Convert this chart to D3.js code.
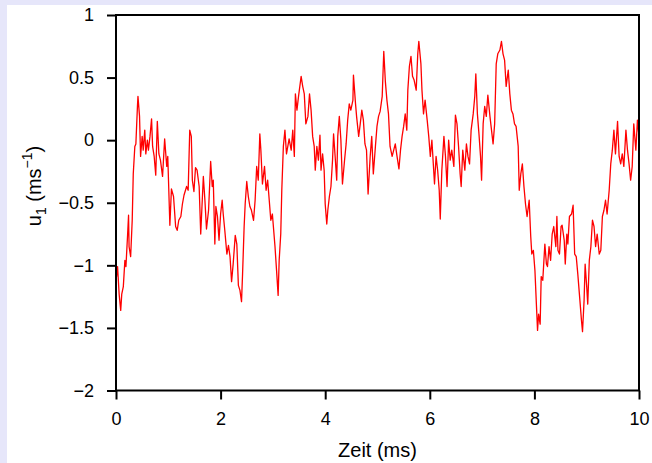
<!DOCTYPE html>
<html><head><meta charset="utf-8">
<script src="https://cdn.jsdelivr.net/npm/d3@7"></script>
<style>body{margin:0;background:#e6e6fa;overflow:hidden} svg{display:block}</style>
</head><body>
<svg id="c" width="652" height="463"></svg>
<script>
// time axis (ms)
const timeMs = [
 0,0.01,0.03,0.06,0.09,0.11,0.14,0.17,0.19,0.22,0.24,0.25,0.28,0.31,0.33,0.36,0.38,0.41,0.42,0.45,
 0.47,0.50,0.52,0.55,0.57,0.60,0.62,0.65,0.68,0.70,0.73,0.76,0.79,0.82,0.85,0.89,0.93,0.97,0.99,1.03,
 1.06,1.10,1.14,1.17,1.20,1.24,1.27,1.30,1.35,1.38,1.41,1.44,1.46,1.49,1.52,1.55,1.59,1.62,
 1.67,1.70,1.73,1.77,1.81,1.84,1.86,1.89,1.91,1.94,1.97,2.00,2.03,2.05,2.08,2.12,2.15,2.18,2.21,2.24,
 2.28,2.31,2.34,2.37,2.40,2.42,2.45,2.47,2.50,2.53,2.56,2.59,2.63,2.66,2.69,2.72,2.75,2.77,2.80,2.84,
 2.87,2.90,2.93,2.96,2.99,3.04,3.07,3.10,3.12,3.15,3.17,3.20,3.23,3.26,
 3.31,3.35,3.38,3.41,3.43,3.46,3.49,3.54,3.57,3.60,3.63,3.67,3.70,3.73,3.76,3.79,3.81,3.84,3.87,3.90,
 3.92,3.95,3.98,4.00,4.03,4.05,4.08,4.11,4.14,4.16,4.19,4.22,4.24,4.27,4.30,4.33,4.37,4.40,4.43,4.46,
 4.49,4.53,4.54,4.58,4.60,4.64,4.67,4.70,4.73,4.76,4.79,4.82,4.86,4.89,4.92,
 4.96,4.99,5.02,5.05,5.09,5.12,5.15,5.18,5.21,5.24,5.28,5.31,5.34,5.37,5.41,5.44,5.47,5.50,5.53,5.56,
 5.58,5.61,5.64,5.67,5.70,5.74,5.77,5.79,5.83,5.85,5.88,5.91,5.95,5.98,6.01,6.04,6.07,6.09,6.12,6.15,
 6.18,6.20,6.23,6.27,6.30,6.33,6.36,6.39,6.42,6.46,6.49,6.52,6.55,6.58,
 6.60,6.63,6.67,6.70,6.73,6.76,6.79,6.83,6.86,6.88,6.91,6.94,6.97,6.99,7.02,7.05,7.08,7.11,7.15,7.18,
 7.21,7.24,7.27,7.30,7.34,7.37,7.40,7.43,7.46,7.50,7.53,7.56,7.59,7.62,7.65,7.69,7.71,7.74,7.77,7.80,
 7.83,7.86,7.90,7.93,7.95,7.98,8.01,8.04,8.06,8.08,8.11,8.13,8.16,8.20,8.23,
 8.25,8.28,8.31,8.34,8.37,8.41,8.43,8.45,8.48,8.51,8.53,8.57,8.59,8.62,8.64,8.67,8.71,8.74,8.77,8.80,
 8.83,8.87,8.90,8.92,8.95,8.97,9.00,9.02,9.05,9.08,9.11,9.14,9.17,9.20,9.24,9.27,9.30,9.33,9.36,9.39,
 9.43,9.46,9.49,9.52,9.55,9.59,9.62,9.65,9.68,9.71,9.75,9.78,9.81,9.84,9.87,9.90,9.94,9.97,10.0
];
// velocity u1 (m/s)
const u1Values = [
 -1.05,-1.09,-1.01,-1.23,-1.36,-1.23,-1.17,-0.96,-1.01,-0.77,-0.60,-0.85,-0.93,-0.64,-0.27,-0.05,-0.03,0.27,0.35,0.19,
 -0.13,0.03,-0.08,0.08,-0.11,0.00,-0.08,0.03,0.17,-0.05,-0.13,-0.28,0.15,-0.11,-0.16,-0.29,0.01,-0.21,-0.13,-0.68,
 -0.39,-0.45,-0.69,-0.72,-0.64,-0.61,-0.51,-0.44,-0.37,-0.40,0.08,0.03,-0.32,-0.41,-0.22,-0.24,-0.37,-0.75,
 -0.29,-0.48,-0.71,-0.56,-0.17,-0.37,-0.32,-0.83,-0.53,-0.61,-0.80,-0.59,-0.48,-0.59,-0.72,-0.91,-0.84,-0.93,-1.13,-0.99,
 -0.76,-0.83,-1.16,-1.20,-1.29,-1.07,-0.69,-0.51,-0.33,-0.45,-0.53,-0.56,-0.64,-0.48,-0.21,-0.32,0.05,-0.08,-0.35,-0.21,
 -0.40,-0.32,-0.48,-0.64,-0.59,-0.85,-1.04,-1.24,-0.96,-0.75,-0.40,-0.05,0.08,-0.11,
 0.01,-0.08,0.08,-0.13,0.37,0.24,0.35,0.51,0.43,0.37,0.13,0.19,0.37,0.24,0.03,-0.05,-0.24,-0.05,-0.16,0.04,
 -0.24,-0.11,-0.24,-0.51,-0.67,-0.56,-0.45,-0.37,-0.16,0.05,-0.13,-0.32,0.03,0.19,0.00,-0.35,-0.16,-0.03,0.16,0.29,
 0.24,0.32,0.52,0.29,0.19,0.03,0.13,0.24,0.16,-0.03,-0.08,-0.43,-0.13,0.03,-0.27,
 -0.05,0.11,0.19,0.23,0.35,0.71,0.47,0.32,0.21,-0.05,-0.13,-0.08,-0.03,-0.12,-0.23,-0.08,0.03,0.11,0.21,0.08,
 0.40,0.59,0.67,0.51,0.48,0.40,0.69,0.79,0.61,0.40,0.21,0.32,0.16,0.03,-0.13,0.00,-0.21,-0.35,-0.13,-0.24,
 -0.40,-0.63,-0.24,0.03,-0.13,-0.37,0.00,-0.16,-0.08,-0.21,0.20,0.13,-0.05,-0.27,
 -0.37,-0.08,-0.24,-0.03,-0.13,-0.19,0.08,0.21,0.35,0.53,0.21,0.05,-0.13,-0.32,0.13,0.27,0.19,0.36,0.19,0.08,
 -0.03,0.13,0.61,0.69,0.72,0.79,0.69,0.64,0.43,0.56,0.37,0.24,0.21,0.13,0.11,-0.05,-0.40,-0.27,-0.19,-0.37,
 -0.51,-0.61,-0.48,-0.77,-0.91,-0.88,-1.04,-1.33,-1.52,-1.39,-1.47,-1.09,-1.12,-0.83,-0.99,
 -1.01,-0.85,-0.96,-0.75,-0.69,-0.85,-0.61,-0.88,-0.91,-0.69,-0.68,-0.80,-0.99,-0.75,-0.83,-0.61,-0.59,-0.52,-0.91,-0.93,
 -1.07,-1.28,-1.44,-1.53,-1.28,-0.99,-1.17,-1.31,-0.96,-0.85,-0.64,-0.69,-0.85,-0.75,-0.91,-0.88,-0.61,-0.56,-0.48,-0.59,
 -0.40,-0.19,-0.08,0.08,-0.11,0.15,-0.13,-0.19,-0.11,-0.21,0.08,-0.08,-0.19,-0.32,-0.21,0.13,-0.08,0.16,0.03
];
const xTicks = [0, 2, 4, 6, 8, 10];
const yTicks = [-2, -1.5, -1, -0.5, 0, 0.5, 1];
const xTitle = "Zeit (ms)";

const W = 652, H = 463;
const svg = d3.select('#c');
svg.append('rect').attr('x', 7).attr('y', 5).attr('width', W - 7).attr('height', H - 5).attr('fill', '#ffffff');

const L = 116, R = 639, T = 15, B = 390.5;
const x = d3.scaleLinear().domain([0, 10]).range([L, R]);
const y = d3.scaleLinear().domain([-2, 1]).range([B, T]);
const fmt = d3.format('~g');
const FONT = "'Liberation Sans', Arial, Helvetica, sans-serif";

// data line
const data = d3.zip(timeMs, u1Values);
svg.append('path').datum(data)
  .attr('fill', 'none').attr('stroke', '#ff0000').attr('stroke-width', 1.3)
  .attr('stroke-linejoin', 'round')
  .attr('d', d3.line().x(d => x(d[0])).y(d => y(d[1])));

// frame (top, right)
const frame = svg.append('g').attr('stroke', '#000').attr('stroke-width', 2).attr('fill', 'none');
frame.append('line').attr('x1', x(0)).attr('x2', x(10)+1).attr('y1', y(1)).attr('y2', y(1));
frame.append('line').attr('x1', x(10)).attr('x2', x(10)).attr('y1', y(1)).attr('y2', y(-2));

const yAxis = svg.append('g').attr('transform', `translate(${L},0)`)
  .call(d3.axisLeft(y).tickValues(yTicks).tickFormat(fmt).tickSize(9).tickSizeOuter(0).tickPadding(13));
const xAxis = svg.append('g').attr('transform', `translate(0,${B})`)
  .call(d3.axisBottom(x).tickValues(xTicks).tickFormat(fmt).tickSize(9).tickSizeOuter(0).tickPadding(13));
[xAxis, yAxis].forEach(g => {
  g.selectAll('path,line').attr('stroke', '#000').attr('stroke-width', 2);
  g.selectAll('text').attr('font-family', FONT).attr('font-size', 18).attr('fill', '#000');
});
yAxis.select('.domain').attr('d', `M0,${y(1)-1}V${y(-2)+1}`);
xAxis.select('.domain').attr('d', `M${x(0)-1},0H${x(10)+1}`);

// titles
svg.append('text').attr('x', (L + R) / 2).attr('y', 457).attr('text-anchor', 'middle')
  .attr('font-family', FONT).attr('font-size', 20).text(xTitle);

const yt = svg.append('text').attr('transform', `translate(41,186) rotate(-90)`)
  .attr('text-anchor', 'middle').attr('font-family', FONT).attr('font-size', 20);
yt.append('tspan').text('u');
yt.append('tspan').attr('font-size', 14).attr('dy', 5).text('1');
yt.append('tspan').attr('dy', -5).text(' (ms');
yt.append('tspan').attr('font-size', 14).attr('dy', -9).text('−1');
yt.append('tspan').attr('dy', 9).text(')');
</script>
</body></html>
